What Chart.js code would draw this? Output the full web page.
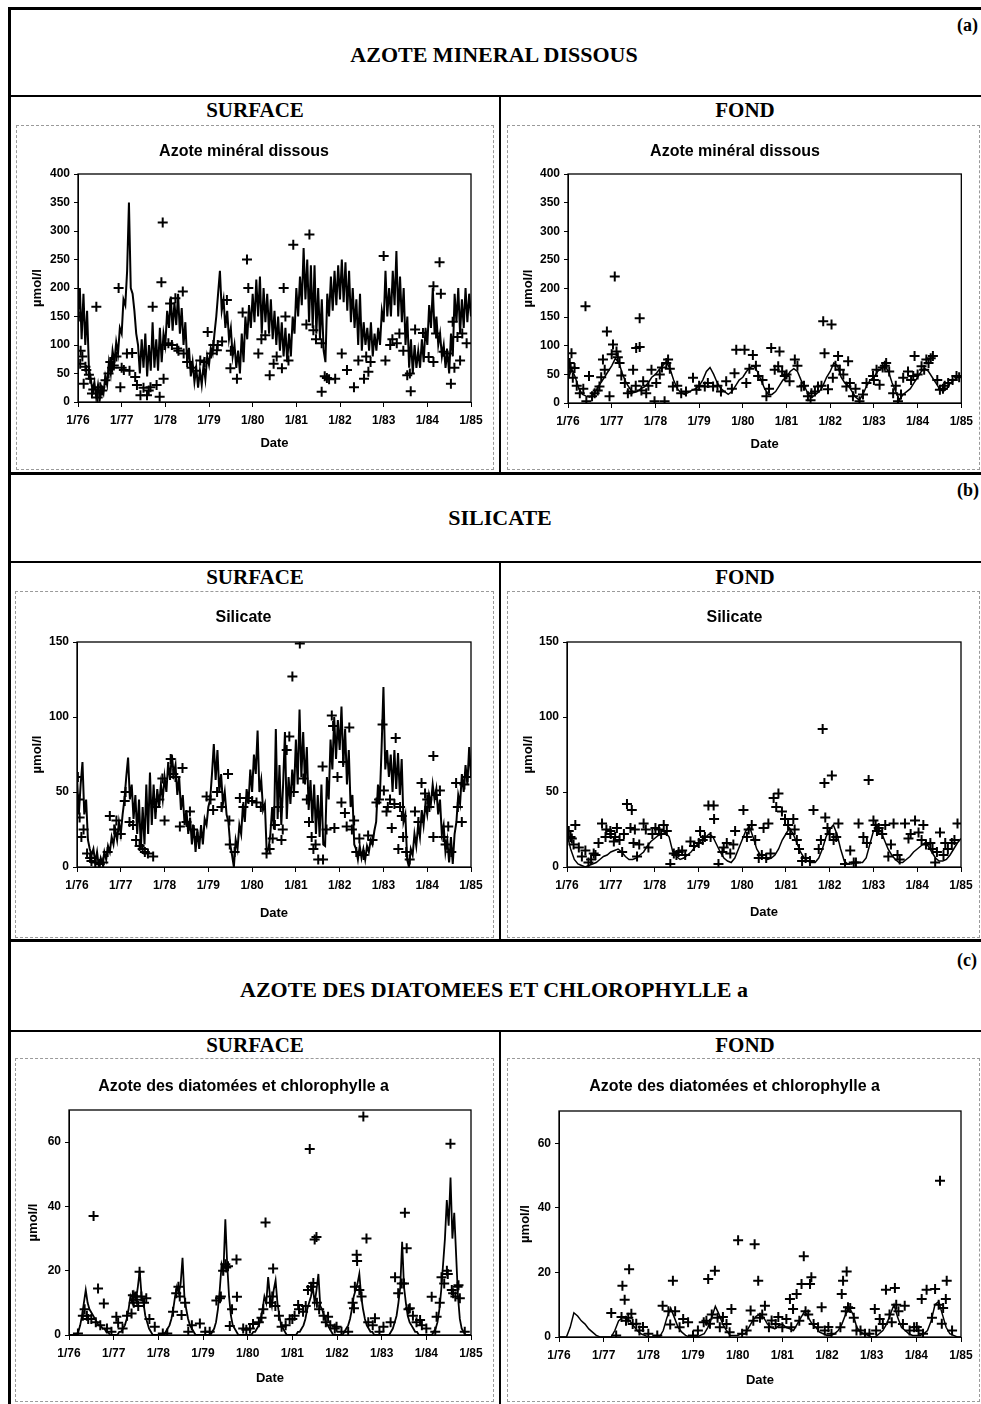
<!DOCTYPE html>
<html>
<head>
<meta charset="utf-8">
<script src="https://cdn.jsdelivr.net/npm/chart.js@4.4.0/dist/chart.umd.min.js"></script>
<style>
  body { margin: 0; background: #fff; }
  #page { position: relative; width: 981px; height: 1404px; overflow: hidden; font-family: "Liberation Serif", "Times New Roman", serif; }
  .ln { position: absolute; background: #000; }
  .txt { position: absolute; font-weight: bold; transform: translate(-50%, -50%); white-space: nowrap; color: #000; }
  .tag { position: absolute; font-weight: bold; font-size: 18px; transform: translateY(-50%); }
  .frame { position: absolute; border: 1px dashed #9a9a9a; box-sizing: border-box; }
  canvas { position: absolute; }
</style>
</head>
<body>
<div id="page">
  <!-- outer frame -->
  <div class="ln" style="left:8px;top:7px;width:980px;height:3px"></div>
  <div class="ln" style="left:8px;top:7px;width:3px;height:1400px"></div>

  <!-- (a) -->
  <div class="tag" style="left:957px;top:25px">(a)</div>
  <div class="txt" style="left:494px;top:55px;font-size:22px">AZOTE MINERAL DISSOUS</div>
  <div class="ln" style="left:8px;top:95px;width:980px;height:2px"></div>
  <div class="ln" style="left:499px;top:95px;width:2px;height:378px"></div>
  <div class="txt" style="left:255px;top:110px;font-size:21px">SURFACE</div>
  <div class="txt" style="left:745px;top:110px;font-size:21px">FOND</div>
  <div class="frame" style="left:16px;top:125px;width:478px;height:345px"></div>
  <div class="frame" style="left:507px;top:125px;width:473px;height:345px"></div>
  <div class="ln" style="left:8px;top:472px;width:980px;height:3px"></div>

  <!-- (b) -->
  <div class="tag" style="left:957px;top:490px">(b)</div>
  <div class="txt" style="left:500px;top:518px;font-size:22px">SILICATE</div>
  <div class="ln" style="left:8px;top:561px;width:980px;height:2px"></div>
  <div class="ln" style="left:499px;top:561px;width:2px;height:380px"></div>
  <div class="txt" style="left:255px;top:577px;font-size:21px">SURFACE</div>
  <div class="txt" style="left:745px;top:577px;font-size:21px">FOND</div>
  <div class="frame" style="left:15px;top:591px;width:479px;height:347px"></div>
  <div class="frame" style="left:507px;top:591px;width:473px;height:347px"></div>
  <div class="ln" style="left:8px;top:939px;width:980px;height:3px"></div>

  <!-- (c) -->
  <div class="tag" style="left:957px;top:960px">(c)</div>
  <div class="txt" style="left:494px;top:990px;font-size:22px">AZOTE DES DIATOMEES ET CHLOROPHYLLE a</div>
  <div class="ln" style="left:8px;top:1030px;width:980px;height:2px"></div>
  <div class="ln" style="left:499px;top:1030px;width:2px;height:380px"></div>
  <div class="txt" style="left:255px;top:1045px;font-size:21px">SURFACE</div>
  <div class="txt" style="left:745px;top:1045px;font-size:21px">FOND</div>
  <div class="frame" style="left:15px;top:1058px;width:479px;height:344px"></div>
  <div class="frame" style="left:507px;top:1058px;width:473px;height:344px"></div>
</div>

<script>
// x axis: years 1976..1985, labelled "1/76" ... "1/85"
const yearStart = 76;
const yearEnd = 85;

// ---- Azote minéral dissous, surface (model, twice a month) ----
const azSurfLine = [
  150,200,110,190,100,160,60,40,20,35,8,30,5,25,15,45,30,70,50,90,70,105,85,130,
  120,180,170,230,350,200,190,160,120,100,50,110,60,120,45,100,55,140,60,110,55,130,70,120,
  100,160,130,185,125,175,135,190,120,165,100,140,70,95,45,70,35,60,25,55,30,65,40,80,
  65,95,85,120,150,190,230,160,180,130,160,110,130,80,100,60,90,50,120,70,150,110,170,130,
  190,140,215,150,220,120,200,140,190,120,180,110,160,100,150,90,140,80,130,70,120,80,150,120,
  200,150,220,170,270,180,250,140,240,130,240,120,200,110,180,90,70,190,150,220,160,230,170,240,
  180,250,175,245,160,230,140,200,130,180,100,190,90,140,100,130,90,140,80,120,90,130,100,160,
  140,230,150,200,150,230,170,265,150,220,140,200,100,150,60,110,50,100,60,90,60,110,70,130,
  100,170,130,200,120,150,100,120,80,100,60,90,50,120,80,190,140,200,120,180,130,200,140,190,
  150
];
// observations: [date, value]
const azSurfObs = [
  76.42,167, 76.93,200, 77.94,315, 77.91,210, 77.96,41, 77.87,9, 77.71,167,
  78.11,173, 78.23,182, 78.4,194, 79.87,250, 79.9,200, 80.93,276, 81.3,294,
  80.71,200, 83.0,256, 84.28,245, 84.14,203, 84.31,190,
  76.02,150, 76.05,67, 76.19,56, 76.28,41, 76.74,70, 76.97,26, 77.05,56, 77.24,86, 77.31,44, 77.43,12, 77.58,12, 77.66,26,
  78.8,73, 78.97,123, 79.18,91, 79.3,106, 79.41,179, 79.49,59, 79.64,41, 79.77,157,
  80.13,85, 80.29,117, 80.39,47, 80.48,67, 80.67,59, 80.82,73,
  81.23,136, 81.39,126, 81.58,103, 81.58,18, 81.7,42, 81.89,41,
  82.04,85, 82.16,56, 82.32,26, 82.42,73, 82.55,41, 82.65,53,
  83.04,73, 83.15,100, 83.3,103, 83.36,120,
  83.54,47, 83.62,19, 83.72,127, 83.9,121, 84.03,79, 84.14,70,
  84.37,88, 84.54,32, 84.58,141, 84.69,114, 84.75,73, 84.9,103,
  78.07,103, 78.27,94, 78.42,85, 76.13,32, 76.32,15, 76.51,26, 76.63,38, 76.82,64,
  76.06,90, 76.1,80, 76.17,62, 76.25,48, 76.35,22, 76.45,8, 76.55,20, 76.7,50, 76.78,60, 76.88,80,
  77.0,60, 77.12,85, 77.18,55, 77.35,30, 77.5,25, 77.62,20, 77.8,30, 77.98,100, 78.15,100, 78.3,90,
  78.5,70, 78.6,60, 78.7,55, 78.9,70, 79.05,85, 79.1,100, 79.2,100, 79.5,90, 80.2,110, 80.55,80,
  80.75,150, 81.45,110, 81.65,45, 81.75,40, 82.6,80, 82.7,70, 83.2,110, 83.45,90, 83.6,50,
  84.2,120, 84.45,85, 84.62,60, 84.8,120
];

// ---- Azote minéral dissous, fond (monthly) ----
const azFondLine = [
  40,60,45,25,15,12,10,15,25,35,45,55,
  65,78,70,50,35,25,18,20,25,28,35,45,
  50,58,65,72,60,40,25,18,15,18,22,25,
  30,40,55,62,50,35,25,20,15,20,30,40,
  45,55,62,65,55,40,25,15,15,20,30,40,
  45,55,60,55,40,28,15,10,15,20,30,45,
  55,70,65,45,35,30,20,10,5,15,30,40,
  45,55,60,65,55,35,20,5,15,20,25,35,
  45,55,60,55,45,35,25,20,25,35,40,45,
  45
];
const azFondObs = [
  76.4,169, 77.07,221, 76.89,125, 77.64,148, 77.56,96, 77.64,98,
  76.08,87, 76.04,70, 76.15,61, 76.11,44, 76.27,17, 76.48,47, 76.42,3, 76.61,17, 76.72,29,
  76.8,76, 76.84,58, 76.95,12, 77.03,102, 77.11,90, 77.18,70, 77.3,35, 77.37,17, 77.49,58, 77.72,38, 77.79,17, 77.91,58, 77.98,3,
  78.02,35, 78.29,76, 78.21,3, 78.4,29, 78.59,17, 78.86,44, 78.94,23, 79.13,29, 79.32,29,
  79.62,38, 79.81,52, 79.85,93, 80.04,93, 80.08,35, 80.23,84, 80.35,47,
  80.54,12, 80.65,96, 80.73,58, 80.84,90, 80.81,64, 80.96,47, 81.07,38, 81.19,76,
  81.34,29, 81.49,12, 81.57,17, 81.72,29, 81.84,143, 82.03,137, 81.87,87, 81.95,24, 82.06,44, 82.18,82, 82.22,58, 82.37,29, 82.41,73, 82.52,12, 82.67,3,
  82.83,35, 82.98,47, 83.06,58, 83.13,32, 83.28,70, 83.44,17, 83.55,3, 83.67,44, 83.78,55, 83.93,82, 83.9,47, 84.09,64, 84.2,76, 84.35,82, 84.51,23, 84.7,35, 84.89,47,
  76.02,55, 76.06,62, 76.2,30, 76.35,25, 76.55,12, 76.68,22, 76.76,45, 77.0,85, 77.14,80, 77.22,48,
  77.45,20, 77.55,30, 77.68,22, 77.84,30, 78.1,50, 78.15,62, 78.25,70, 78.33,60, 78.5,30, 78.7,20,
  79.0,30, 79.2,35, 79.42,30, 79.5,20, 79.75,25, 80.15,60, 80.3,65, 80.45,40, 80.6,25, 80.9,55,
  81.0,50, 81.25,65, 81.4,30, 81.55,5, 81.65,20, 81.8,30, 82.12,65, 82.3,50, 82.45,35, 82.58,25,
  82.75,15, 83.0,40, 83.2,62, 83.25,65, 83.35,55, 83.5,30, 83.62,15, 83.85,40, 84.0,50, 84.15,58,
  84.25,70, 84.3,78, 84.45,40, 84.58,25, 84.62,30, 84.8,40, 84.95,45
];

// ---- Silicate, surface (twice a month) ----
const siSurfLine = [
  60,35,55,70,35,45,18,12,8,12,3,10,0,6,2,10,5,14,10,20,15,25,18,30,
  22,35,45,60,73,45,55,32,48,22,45,12,40,15,55,22,63,28,55,32,52,40,55,45,
  60,50,70,58,75,62,68,48,60,38,48,28,38,22,33,15,28,10,25,12,28,15,32,28,
  40,45,62,82,58,78,50,62,42,50,35,30,15,8,0,18,12,28,22,42,30,52,42,65,
  50,75,62,91,50,58,38,42,10,12,22,40,25,92,32,68,28,55,90,32,60,42,65,50,
  85,55,105,60,90,55,80,38,58,30,55,22,48,20,55,15,14,60,45,85,65,100,72,98,
  78,107,68,92,55,78,40,48,15,12,5,14,6,12,5,14,10,18,15,24,30,55,45,80,
  120,65,78,60,75,50,78,52,76,48,72,30,35,5,0,12,8,22,14,28,20,38,28,42,
  35,48,42,55,45,52,35,45,22,28,10,18,3,20,2,22,30,48,42,62,50,68,55,80,
  60
];
const siSurfObs = [
  76.02,60, 76.06,33, 76.1,20, 76.23,9, 76.33,4, 76.52,2,
  76.75,34, 76.9,31, 77.09,44, 77.11,50, 77.28,28, 77.43,14, 77.62,9, 77.74,7,
  77.95,59, 78.14,72, 78.2,62, 78.41,66, 78.0,31, 78.35,27, 78.58,37,
  78.96,47, 79.11,38, 79.45,62, 79.48,31, 79.49,15, 79.72,46, 79.91,46,
  80.1,43, 80.33,9, 80.47,19, 80.52,28, 80.67,18, 80.79,78, 80.85,87, 80.92,127, 81.09,149, 81.17,59, 81.36,20, 81.4,12, 81.51,5, 81.62,5, 81.61,67,
  81.82,101, 81.85,94, 81.88,26, 82.04,43, 82.12,36, 82.16,27, 82.22,93, 82.33,31, 82.45,19, 82.65,21,
  82.84,43, 82.98,95, 83.01,51, 83.07,37, 83.19,26, 83.28,86, 83.34,12, 83.42,34, 83.45,20,
  83.72,37, 83.87,56, 83.95,49, 84.14,74, 84.14,20, 84.29,51, 84.37,20, 84.48,27, 84.66,56, 84.79,30,
  76.04,45, 76.15,25, 76.3,6, 76.42,3, 76.6,3, 76.7,10, 76.85,25, 77.0,22, 77.2,30, 77.35,18,
  77.5,12, 77.55,10, 77.8,40, 77.88,45, 78.25,60, 78.5,30, 78.65,25, 78.75,20, 79.05,45, 79.2,50,
  79.3,40, 79.6,10, 79.8,40, 80.0,44, 80.2,40, 80.4,12, 80.6,40, 80.7,25, 80.95,50, 81.25,45,
  81.3,30, 81.45,15, 81.7,25, 81.95,60, 82.08,70, 82.28,25, 82.38,10, 82.55,8, 82.75,18, 82.9,45,
  83.1,40, 83.15,45, 83.25,42, 83.38,40, 83.52,10, 83.6,5, 83.8,30, 84.0,45, 84.05,40, 84.2,48,
  84.42,15, 84.55,10, 84.7,40, 84.85,55, 84.92,60
];

// ---- Silicate, fond (monthly) ----
const siFondLine = [
  22,12,5,2,1,0,1,2,3,5,7,8,
  10,11,12,10,7,5,5,6,8,10,14,17,
  19,21,22,23,20,10,7,5,6,8,10,13,
  16,18,20,22,20,15,10,6,4,3,6,12,
  18,24,27,20,12,8,6,5,6,8,12,18,
  22,26,22,16,10,6,4,3,3,6,12,20,
  25,28,22,12,4,2,2,3,3,3,6,15,
  24,26,24,18,12,8,5,3,3,5,7,10,
  12,14,16,14,10,6,4,4,5,8,12,16,
  19
];
const siFondObs = [
  76.04,24, 76.11,19, 76.19,28, 76.27,13, 76.34,7, 76.42,11, 76.49,3, 76.61,9, 76.72,16,
  76.8,29, 76.88,20, 76.99,24, 77.07,17, 77.14,26, 77.26,10, 77.37,42, 77.48,38, 77.45,26, 77.52,16, 77.6,7, 77.75,29, 77.86,13, 78.02,26, 78.21,28, 78.36,2,
  78.44,9, 78.63,11, 78.82,17, 79.01,16, 79.04,24, 79.23,41, 79.35,41, 79.36,32, 79.46,2, 79.58,13, 79.73,9, 79.84,24,
  80.03,38, 80.11,20, 80.22,28, 80.38,6, 80.49,26, 80.6,29, 80.72,46, 80.83,49, 80.78,40, 80.91,37, 80.98,32, 81.17,32, 81.25,18, 81.37,4,
  81.63,38, 81.75,12, 81.84,92, 81.88,56, 82.05,61, 81.9,33, 82.09,18, 82.2,29, 82.35,2, 82.47,11, 82.66,29,
  82.77,20, 82.89,58, 83.0,31, 83.08,24, 83.27,28, 83.34,7, 83.46,29, 83.72,29, 83.8,19, 83.95,31, 84.03,23, 84.14,28, 84.3,16, 84.41,3, 84.52,23, 84.64,16, 84.79,16, 84.92,29,
  76.08,20, 76.15,15, 76.55,5, 76.65,8, 76.9,25, 77.0,22, 77.1,20, 77.2,18, 77.3,22, 77.55,25,
  77.65,15, 77.8,25, 77.95,22, 78.1,25, 78.15,22, 78.28,24, 78.5,8, 78.55,10, 78.7,8, 78.9,14,
  79.1,18, 79.15,20, 79.28,20, 79.55,10, 79.65,16, 79.8,15, 80.15,25, 80.3,18, 80.45,8, 80.55,6,
  80.65,9, 81.05,28, 81.1,22, 81.2,25, 81.3,12, 81.45,6, 81.55,4, 81.8,18, 81.95,26, 82.0,22,
  82.15,20, 82.55,3, 82.6,3, 82.85,16, 83.05,28, 83.12,26, 83.2,22, 83.4,15, 83.55,8, 83.6,5,
  83.85,22, 84.1,18, 84.2,15, 84.35,12, 84.45,10, 84.6,8, 84.7,12, 84.85,18
];

// ---- Azote des diatomées et chlorophylle a, surface (twice a month) ----
const chSurfLine = [
  0,0,0,0,0,1,3,6,10,14,10,8,7,6,5,4,3,3,2,2,1,1,0,0,
  0,0,0,1,1,2,3,5,8,12,10,13,11,15,20,12,10,6,4,2,1,0,0,0,
  0,0,0,0,1,2,3,5,8,12,15,13,16,24,12,8,5,3,2,1,0,0,0,0,
  0,0,0,0,0,1,2,4,8,14,22,20,36,22,12,6,3,2,1,0,0,0,0,0,
  0,0,0,1,1,2,3,5,8,12,10,18,12,9,14,17,10,6,3,2,1,0,0,0,
  0,0,0,1,1,2,3,5,8,10,12,15,10,14,19,9,8,6,4,3,2,1,0,0,
  0,0,0,0,1,2,3,5,8,12,14,16,19,12,8,5,3,2,1,1,0,0,0,0,
  0,0,0,0,0,1,2,4,6,10,15,29,15,10,6,4,3,2,1,1,0,0,0,0,
  0,0,0,0,1,2,4,8,14,22,30,42,34,49,30,38,25,12,5,2,1,0,0,0,
  0
];
const chSurfObs = [
  76.55,37, 76.65,14.5, 76.78,9.8, 76.31,6, 76.43,5, 77.06,5.7, 77.1,3.8, 77.4,6.7, 77.43,12.4, 77.58,19.7, 77.73,11.4, 77.92,2.6,
  78.33,7.2, 78.52,6.2, 78.67,1, 78.93,3.6, 79.15,1, 79.3,10.7, 79.38,11.4, 79.56,21.4, 79.75,23.5, 79.6,2.8, 79.76,11.9, 79.97,1.6, 80.12,3.4,
  80.4,35, 80.57,20.7, 80.31,5.4, 80.76,2.6, 80.94,4.9, 81.13,9.3, 81.24,7.2, 81.39,57.9, 81.47,16.2, 81.5,29.7, 81.54,30.5, 81.8,5.7, 81.99,2.6,
  82.44,25, 82.45,23, 82.38,8.3, 82.59,68, 82.66,30, 82.85,5.2, 83.04,2.6, 83.3,18, 83.37,13, 83.52,38, 83.56,27, 83.63,8.3, 83.86,4.7,
  84.12,11.9, 84.23,5.7, 84.34,18, 84.46,20, 84.54,59.5, 84.57,14, 84.72,15.5, 84.75,11.4, 84.86,1,
  76.2,0.5, 76.35,8, 76.4,6, 76.5,5, 76.6,4, 76.7,3, 76.85,2, 76.95,1, 77.2,2, 77.3,6,
  77.45,10, 77.5,12, 77.52,11, 77.55,9, 77.62,12, 77.68,10, 77.8,5, 78.1,0.5, 78.2,0.5, 78.4,13,
  78.45,15, 78.48,12, 78.6,10, 78.75,3, 79.05,1, 79.4,12, 79.45,20, 79.5,22, 79.52,21, 79.65,8,
  79.9,2, 80.05,2, 80.25,4, 80.35,8, 80.5,10, 80.55,12, 80.62,9, 80.7,6, 80.85,3, 81.0,5,
  81.05,6, 81.15,8, 81.3,9, 81.35,14, 81.42,15, 81.55,10, 81.6,8, 81.7,6, 81.75,4, 81.85,3,
  81.95,2, 82.1,1, 82.25,1, 82.35,10, 82.4,15, 82.5,14, 82.55,12, 82.7,4, 82.8,3, 82.95,1,
  83.2,4, 83.45,16, 83.5,16, 83.6,8, 83.7,6, 83.78,4, 83.9,3, 84.0,2, 84.2,1, 84.3,10,
  84.4,16, 84.48,19, 84.6,13, 84.65,12, 84.7,15
];

// ---- Azote des diatomées et chlorophylle a, fond (monthly) ----
const chFondLine = [
  0,0,0,3,7.5,6.5,5,4,2.5,1.5,0.5,0,
  0,0,0,2,5,6,6,5,3.5,2,1,0.5,
  0,0,0,0,2,6,9,6,3,1.5,0.5,0,
  0,0,0.5,1,3,6,9.5,7,4,2,0.5,0.5,
  0.5,1,1,3,5,6.5,7,6,4,3,2.5,3.5,
  4,3,2.5,2,4,6,8,6,4,3,1.5,1,
  0.5,0.5,1,2,4,7,9,7,3,1.5,1,0.5,
  0,0,1,2,4,7,10,6,3,2,1,0.5,
  0.5,0.5,1,2,5,10,11,7,3,1,0.5,0,
  0
];
const chFondObs = [
  77.17,7.4, 77.42,15.9, 77.47,11.5, 77.57,21, 77.28,0.5, 77.4,6.2, 77.62,7.2, 77.73,4.1, 77.88,3.1,
  78.32,9.7, 78.55,17.4, 78.49,3.9, 78.78,5.6, 78.89,4.6, 79.11,2, 79.24,4.6, 79.34,18, 79.49,20.5, 79.38,4.1, 79.67,6.2, 79.86,8.7, 79.82,1.5,
  80.01,30, 80.2,2, 80.38,28.7, 80.46,17.4, 80.29,8.2, 80.61,9.7, 80.76,5.1, 80.91,6.2, 81.09,5.6, 81.17,11.8, 81.24,8.7, 81.32,13.3, 81.43,16.4, 81.48,25, 81.65,18.5, 81.62,16.4, 81.88,9.2, 82.03,3.1,
  82.33,13.3, 82.36,17.4, 82.44,20.3, 82.47,9.2, 82.66,2, 82.85,1, 83.07,8.7, 83.18,5.6, 83.32,14.6, 83.52,15.2, 83.45,4.6, 83.74,9.7,
  84.01,3.1, 84.12,11.8, 84.23,14.6, 84.42,14.9, 84.53,48.4, 84.57,4.1, 84.68,17.4, 84.66,11.8,
  77.5,5, 77.55,6, 77.65,4, 77.8,2, 78.0,1, 78.2,0.5, 78.45,8, 78.6,8, 78.7,3, 79.0,0.5,
  79.3,5, 79.42,7, 79.55,6, 79.6,3, 79.75,4, 80.1,1, 80.35,5, 80.5,6, 80.55,7, 80.7,3,
  80.85,4, 81.0,3, 81.2,3, 81.38,5, 81.52,8, 81.58,7, 81.7,4, 81.8,3, 81.95,2, 82.1,1,
  82.3,3, 82.42,8, 82.52,9, 82.6,6, 82.75,2, 82.95,1, 83.1,2, 83.25,4, 83.4,7, 83.55,10,
  83.6,8, 83.7,4, 83.85,2, 83.95,3, 84.05,2, 84.15,1, 84.35,6, 84.5,10, 84.6,9, 84.8,2
];

Chart.defaults.font.family = '"Liberation Sans", Arial, sans-serif';
Chart.defaults.color = '#000';

// evenly spaced samples from 1/76 to 1/85
function toSeries(vals) {
  const step = (yearEnd - yearStart) / (vals.length - 1);
  return vals.map((v, i) => ({ x: yearStart + i * step, y: v }));
}
function toPoints(flat) {
  const out = [];
  for (let i = 0; i < flat.length; i += 2) out.push({ x: flat[i], y: flat[i + 1] });
  return out;
}

// black box around the plot area
const plotFrame = {
  id: 'plotFrame',
  afterDraw(chart) {
    const a = chart.chartArea, ctx = chart.ctx;
    ctx.save();
    ctx.strokeStyle = '#000';
    ctx.lineWidth = 1.3;
    ctx.strokeRect(a.left, a.top, a.right - a.left, a.bottom - a.top);
    ctx.restore();
  }
};

// box = canvas [x, y, w, h], plot = [left, top, right, bottom] in page pixels
const panels = [
  { title: 'Azote minéral dissous', line: azSurfLine, obs: azSurfObs, yMax: 400, yStep: 50, lw: 2,
    box: [17, 126, 476, 342], plot: [78, 174, 471, 402], titleY: 152, yTitleX: 37, dateY: 443 },
  { title: 'Azote minéral dissous', line: azFondLine, obs: azFondObs, yMax: 400, yStep: 50, lw: 1.5,
    box: [508, 126, 471, 342], plot: [568, 174, 962, 403], titleY: 152, yTitleX: 528, dateY: 444 },
  { title: 'Silicate', line: siSurfLine, obs: siSurfObs, yMax: 150, yStep: 50, lw: 2,
    box: [16, 592, 477, 345], plot: [77, 642, 471, 867], titleY: 618, yTitleX: 37, dateY: 913 },
  { title: 'Silicate', line: siFondLine, obs: siFondObs, yMax: 150, yStep: 50, lw: 1.5,
    box: [508, 592, 471, 345], plot: [567, 642, 961, 867], titleY: 618, yTitleX: 528, dateY: 912 },
  { title: 'Azote des diatomées et chlorophylle a', line: chSurfLine, obs: chSurfObs, yMax: 70, yStep: 20, lw: 1.8,
    box: [16, 1059, 477, 342], plot: [69, 1110, 471, 1335], titleY: 1087, yTitleX: 33, dateY: 1378 },
  { title: 'Azote des diatomées et chlorophylle a', line: chFondLine, obs: chFondObs, yMax: 70, yStep: 20, lw: 1.5,
    box: [508, 1059, 471, 342], plot: [559, 1111, 961, 1337], titleY: 1087, yTitleX: 525, dateY: 1380 }
];

const page = document.getElementById('page');

panels.forEach(p => {
  const [cx, cy, cw, ch] = p.box;
  const [pl, pt, pr, pb] = p.plot;
  const cv = document.createElement('canvas');
  cv.width = cw;
  cv.height = ch;
  cv.style.left = cx + 'px';
  cv.style.top = cy + 'px';
  page.appendChild(cv);

  const titleLH = 16 * 1.2;
  const titleTop = p.titleY - cy - titleLH / 2;

  new Chart(cv, {
    type: 'scatter',
    data: {
      datasets: [
        {
          type: 'line',
          data: toSeries(p.line),
          borderColor: '#000',
          borderWidth: p.lw,
          pointRadius: 0,
          tension: 0
        },
        {
          type: 'scatter',
          data: toPoints(p.obs),
          pointStyle: 'cross',
          pointRadius: 5,
          borderColor: '#000',
          borderWidth: 2
        }
      ]
    },
    options: {
      responsive: false,
      animation: false,
      layout: { padding: { left: 0, top: 0, right: cx + cw - pr, bottom: 0 } },
      plugins: {
        legend: { display: false },
        tooltip: { enabled: false },
        title: {
          display: true,
          text: p.title,
          font: { size: 16, weight: 'bold' },
          padding: { top: titleTop, bottom: pt - cy - titleTop - titleLH }
        }
      },
      scales: {
        x: {
          type: 'linear',
          min: yearStart,
          max: yearEnd,
          ticks: {
            stepSize: 1,
            autoSkip: false,
            maxRotation: 0,
            padding: 6,
            font: { size: 12, weight: 'bold' },
            callback: v => '1/' + v
          },
          grid: { drawOnChartArea: false, drawTicks: true, tickLength: 5, color: '#000' },
          border: { color: '#000' },
          title: {
            display: true,
            text: 'Date',
            font: { size: 13, weight: 'bold' },
            padding: { top: 0, bottom: cy + ch - p.dateY - 7.8 }
          },
          afterFit: s => { s.height = cy + ch - pb; }
        },
        y: {
          min: 0,
          max: p.yMax,
          ticks: {
            stepSize: p.yStep,
            includeBounds: false,
            padding: 4,
            font: { size: 12, weight: 'bold' }
          },
          grid: { drawOnChartArea: false, drawTicks: true, tickLength: 4, color: '#000' },
          border: { color: '#000' },
          title: {
            display: true,
            text: 'µmol/l',
            font: { size: 13, weight: 'bold' },
            padding: { top: p.yTitleX - cx - 7.8, bottom: 0 }
          },
          afterFit: s => { s.width = pl - cx; }
        }
      }
    },
    plugins: [plotFrame]
  });
});
</script>
</body>
</html>
